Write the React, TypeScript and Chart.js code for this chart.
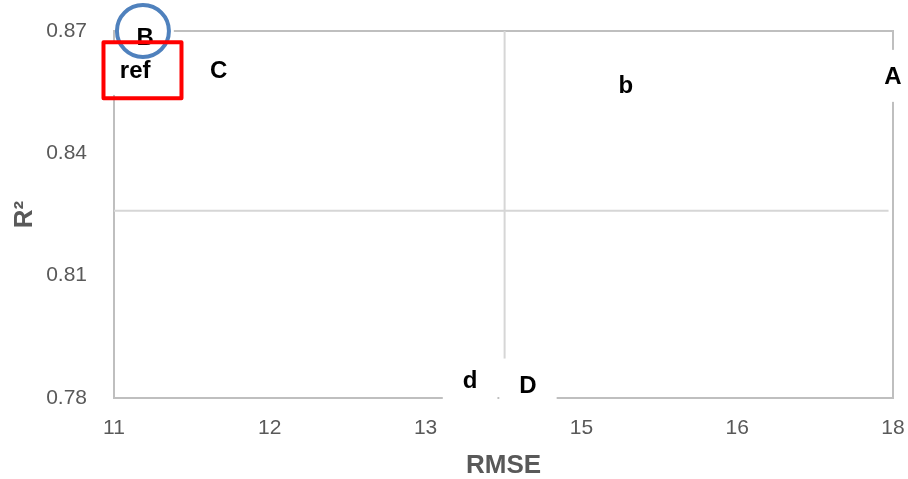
import { useEffect, useRef } from 'react';
import { Chart, registerables } from 'chart.js';

Chart.register(...registerables);

// Data labels (invisible points)
const pointLabels = ['B', 'ref', 'C', 'b', 'A', 'd', 'D'];
const rmseValues = [11.28, 11.19, 11.94, 15.6, 18.0, 14.2, 14.72];
const r2Values = [0.8688, 0.8607, 0.8607, 0.857, 0.859, 0.7845, 0.7833];

// Axis ticks
const xTickValues = [11, 12.4, 13.8, 15.2, 16.6, 18];
const xTickLabels = ['11', '12', '13', '15', '16', '18'];
const yTickValues = [0.78, 0.81, 0.84, 0.87];
const yTickLabels = ['0.78', '0.81', '0.84', '0.87'];

// Quadrant lines
const vLineX = [14.51, 14.51];
const vLineY = [0.87, 0.7893];
const hLineX = [11, 17.96];
const hLineY = [0.8259, 0.8259];

// Highlight markers
const circleX = [11.26];
const circleY = [0.87];
const rectX = [11.256];
const rectY = [0.8604];

const TICK_FONT = "'Liberation Sans', Arial, sans-serif";
const LABEL_FONT = "'Liberation Sans', Arial, sans-serif";

const overlayPlugin = {
  id: 'overlay',
  beforeDatasetsDraw(chart: any) {
    const { ctx, chartArea } = chart;
    ctx.save();
    ctx.strokeStyle = '#bfbfbf';
    ctx.lineWidth = 2;
    ctx.strokeRect(chartArea.left, chartArea.top, chartArea.right - chartArea.left, chartArea.bottom - chartArea.top);
    ctx.restore();
  },
  afterDatasetsDraw(chart: any) {
    const { ctx } = chart;
    const xs = chart.scales.x;
    const ys = chart.scales.y;
    const meta = chart.getDatasetMeta(0);
    ctx.save();
    const fs = 24;
    ctx.font = `bold ${fs}px ${LABEL_FONT}`;
    meta.data.forEach((el: any, i: number) => {
      const t = pointLabels[i];
      const w = ctx.measureText(t).width + 40;
      const h = 52;
      ctx.fillStyle = '#ffffff';
      ctx.fillRect(el.x - w / 2, el.y - h / 2, w, h);
    });
    meta.data.forEach((el: any, i: number) => {
      const t = pointLabels[i];
      ctx.fillStyle = '#000000';
      ctx.textAlign = 'center';
      ctx.textBaseline = 'alphabetic';
      ctx.fillText(t, el.x, el.y + fs * 0.36);
    });
    // circle around B
    ctx.strokeStyle = '#4f81bd';
    ctx.lineWidth = 4;
    ctx.beginPath();
    ctx.arc(xs.getPixelForValue(circleX[0]), ys.getPixelForValue(circleY[0]), 26, 0, Math.PI * 2);
    ctx.stroke();
    // rectangle around ref
    ctx.strokeStyle = '#ff0000';
    ctx.lineWidth = 4;
    ctx.lineJoin = 'round';
    const rx = xs.getPixelForValue(rectX[0]);
    const ry = ys.getPixelForValue(rectY[0]);
    ctx.strokeRect(rx - 39, ry - 28, 78, 56);
    ctx.restore();
  },
};

export default function App() {
  const ref = useRef<HTMLCanvasElement | null>(null);
  useEffect(() => {
    document.body.style.margin = '0';
    const canvas = ref.current!;
    const chart = new Chart(canvas, {
      type: 'scatter',
      data: {
        datasets: [
          {
            label: 'points',
            data: rmseValues.map((x, i) => ({ x, y: r2Values[i] })),
            pointRadius: 0,
            pointHoverRadius: 0,
          },
          {
            label: 'v',
            data: vLineX.map((x, i) => ({ x, y: vLineY[i] })),
            showLine: true,
            borderColor: '#d6d6d6',
            borderWidth: 2,
            pointRadius: 0,
          },
          {
            label: 'h',
            data: hLineX.map((x, i) => ({ x, y: hLineY[i] })),
            showLine: true,
            borderColor: '#d6d6d6',
            borderWidth: 2,
            pointRadius: 0,
          },
        ],
      },
      options: {
        animation: false,
        responsive: false,
        devicePixelRatio: 1,
        layout: { padding: { left: 0, right: 15, top: 31, bottom: 0 } },
        plugins: { legend: { display: false }, tooltip: { enabled: false } },
        scales: {
          x: {
            type: 'linear',
            min: 11,
            max: 18,
            afterBuildTicks: (s: any) => {
              s.ticks = xTickValues.map((v) => ({ value: v }));
            },
            afterFit: (s: any) => {
              s.height = 479 - 398;
              s.paddingLeft = 0;
              s.paddingRight = 0;
            },
            grid: { display: false },
            border: { display: false },
            ticks: {
              color: '#595959',
              font: { family: TICK_FONT, size: 21 },
              padding: 10,
              maxRotation: 0,
              autoSkip: false,
              callback: (_v: any, i: number) => xTickLabels[i],
            },
            title: {
              display: true,
              text: 'RMSE',
              color: '#595959',
              font: { family: TICK_FONT, size: 26, weight: 'bold' },
              padding: { top: 0, bottom: -2 },
            },
          },
          y: {
            type: 'linear',
            min: 0.78,
            max: 0.87,
            afterBuildTicks: (s: any) => {
              s.ticks = yTickValues.map((v) => ({ value: v }));
            },
            afterFit: (s: any) => {
              s.width = 114;
              s.paddingTop = 0;
              s.paddingBottom = 0;
            },
            grid: { display: false },
            border: { display: false },
            ticks: {
              color: '#595959',
              font: { family: TICK_FONT, size: 21 },
              padding: 19,
              autoSkip: false,
              callback: (_v: any, i: number) => yTickLabels[i],
            },
            title: {
              display: true,
              text: 'R²',
              color: '#595959',
              font: { family: TICK_FONT, size: 26, weight: 'bold' },
              padding: { top: 9, bottom: 0 },
            },
          },
        },
      },
      plugins: [overlayPlugin],
    });
    return () => chart.destroy();
  }, []);
  return <canvas ref={ref} width={908} height={479} style={{ display: 'block' }} />;
}
